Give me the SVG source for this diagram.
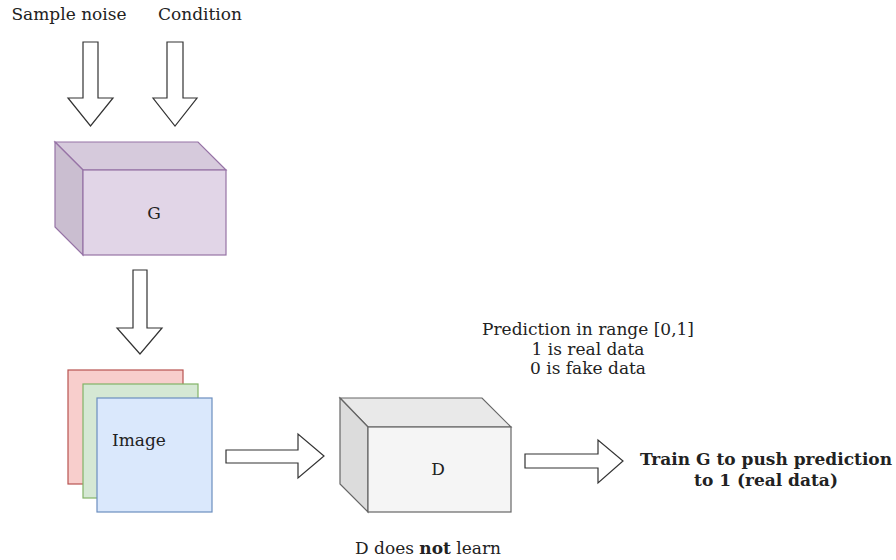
<svg xmlns="http://www.w3.org/2000/svg" width="896" height="560" viewBox="0 0 896 560">
  <style>
    .t { font-family: "DejaVu Serif", "Liberation Serif", serif; font-size: 17px; fill: #222; }
    .b { font-weight: bold; }
    .arrow { fill: #ffffff; stroke: #333333; stroke-width: 1.2; stroke-linejoin: miter; }
    .g-face { fill: #e1d5e7; stroke: #9673a6; stroke-width: 1.2; }
    .g-top { fill: #d6cadc; stroke: #9673a6; stroke-width: 1.2; }
    .g-side { fill: #cabed0; stroke: #9673a6; stroke-width: 1.2; }
    .d-face { fill: #f5f5f5; stroke: #666666; stroke-width: 1.2; }
    .d-top { fill: #e9e9e9; stroke: #666666; stroke-width: 1.2; }
    .d-side { fill: #dcdcdc; stroke: #666666; stroke-width: 1.2; }
  </style>

  <rect width="896" height="560" fill="#ffffff"/>

  <!-- input labels -->
  <g id="label-noise"><text class="t" x="69" y="20" text-anchor="middle">Sample noise</text></g>
  <g id="label-condition"><text class="t" x="200" y="20" text-anchor="middle">Condition</text></g>

  <!-- generator -->
  <g id="generator">
    <polygon class="g-top" points="55,142 198,142 226,170 83,170"/>
    <polygon class="g-side" points="55,142 83,170 83,255 55,227"/>
    <rect class="g-face" x="83" y="170" width="143" height="85"/>
    <text class="t" x="154" y="219" text-anchor="middle">G</text>
  </g>

  <!-- stacked image channels -->
  <g id="image">
    <rect x="68" y="370" width="115" height="114" fill="#f8cecc" stroke="#b85450" stroke-width="1.2"/>
    <rect x="83" y="384" width="115" height="114" fill="#d5e8d4" stroke="#82b366" stroke-width="1.2"/>
    <rect x="97" y="398" width="115" height="114" fill="#dae8fc" stroke="#6c8ebf" stroke-width="1.2"/>
    <text class="t" x="112" y="446">Image</text>
  </g>

  <!-- discriminator -->
  <g id="discriminator">
    <polygon class="d-top" points="340,398 482,398 511,427 368,427"/>
    <polygon class="d-side" points="340,398 368,427 368,512 340,484"/>
    <rect class="d-face" x="368" y="427" width="143" height="85"/>
    <text class="t" x="438" y="475" text-anchor="middle">D</text>
  </g>

  <!-- annotations -->
  <g id="prediction-note">
    <text class="t" x="588" y="335" text-anchor="middle">Prediction in range [0,1]</text>
    <text class="t" x="588" y="355" text-anchor="middle">1 is real data</text>
    <text class="t" x="588" y="374" text-anchor="middle">0 is fake data</text>
  </g>
  <g id="train-note">
    <text class="t b" x="766" y="465" text-anchor="middle">Train G to push prediction</text>
    <text class="t b" x="766" y="486" text-anchor="middle">to 1 (real data)</text>
  </g>
  <g id="d-note">
    <text class="t" x="428" y="554" text-anchor="middle">D does <tspan class="b">not</tspan> learn</text>
  </g>

  <!-- block arrows -->
  <g id="connectors">
    <polygon class="arrow" points="83,42 98,42 98,98 113,98 90.5,126 68,98 83,98"/>
    <polygon class="arrow" points="167,42 183,42 183,98 197,98 175,126 153,98 167,98"/>
    <polygon class="arrow" points="133,270 147,270 147,328 162,328 140,354 117,328 133,328"/>
    <polygon class="arrow" points="226,450 298,450 298,434 324,456 298,478 298,463 226,463"/>
    <polygon class="arrow" points="525,454 598,454 598,440 623,461 598,483 598,468 525,468"/>
  </g>
</svg>
